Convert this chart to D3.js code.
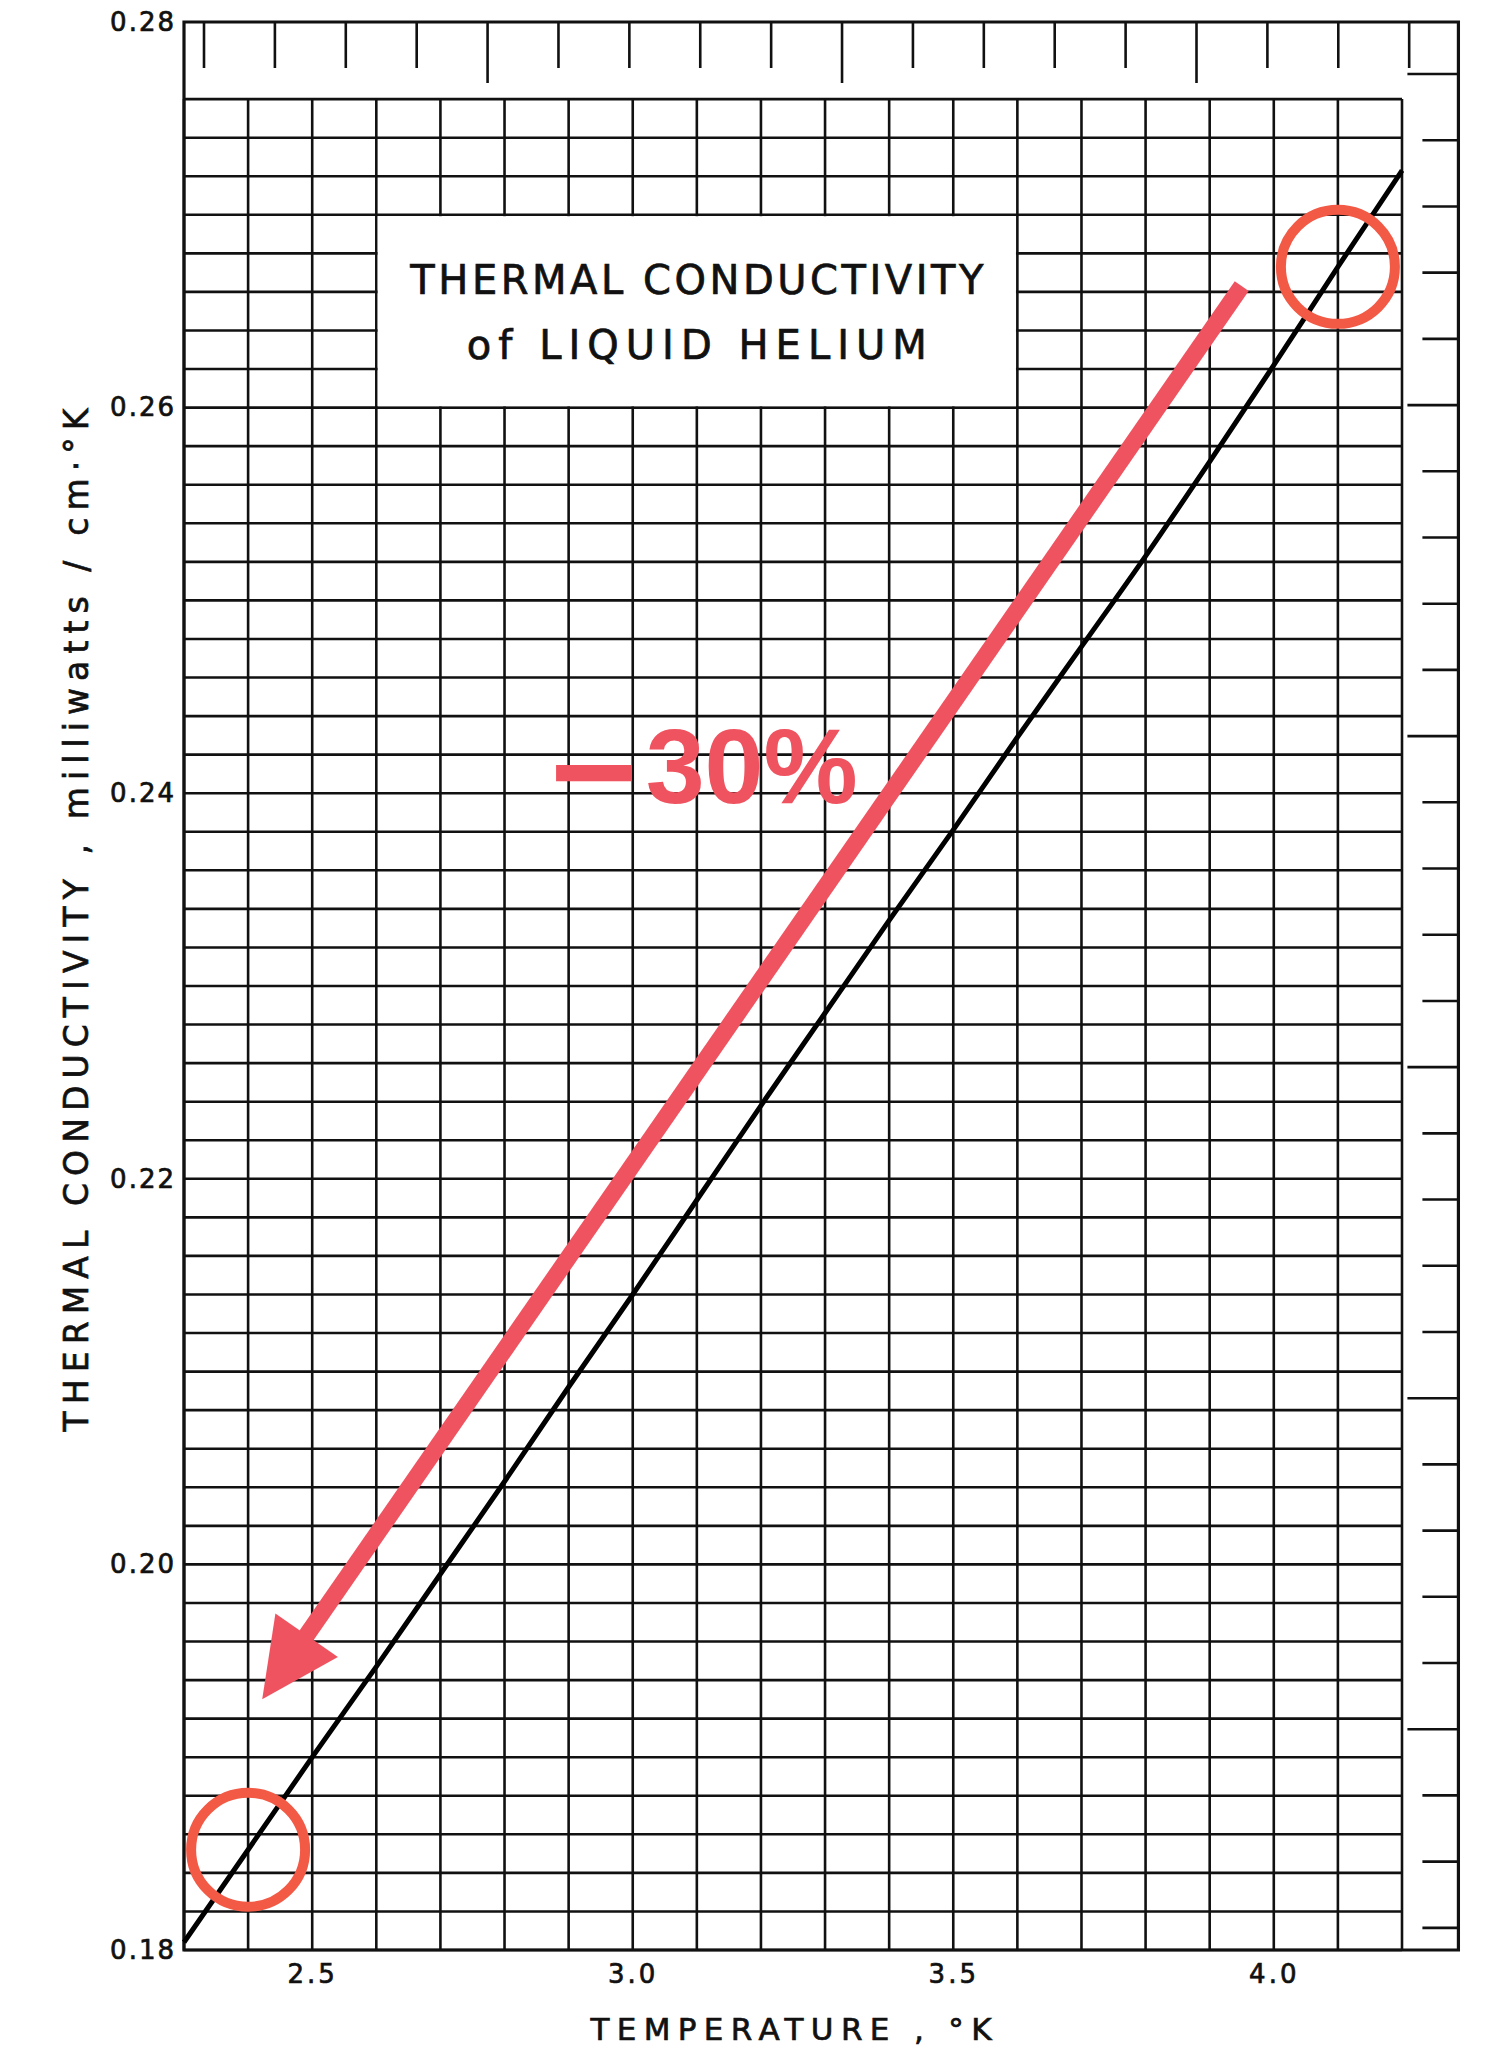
<!DOCTYPE html>
<html>
<head>
<meta charset="utf-8">
<title>Thermal Conductivity of Liquid Helium</title>
<script src="https://cdn.jsdelivr.net/npm/d3@7"></script>
<style>
  html, body { margin: 0; padding: 0; background: #fff; }
  svg { display: block; }
</style>
</head>
<body>
<script>
// Temperature (°K) and thermal conductivity (milliwatts / cm·°K)
const temperatureK = [2.3, 2.4, 2.5, 2.6, 2.7, 2.8, 2.9, 3.0, 3.1, 3.2,
                      3.3, 3.4, 3.5, 3.6, 3.7, 3.8, 3.9, 4.0, 4.1, 4.2];
const conductivity = [0.1804, 0.1852, 0.1900, 0.1947, 0.1995, 0.2043, 0.2092, 0.2140, 0.2189, 0.2238,
                      0.2286, 0.2334, 0.2381, 0.2429, 0.2476, 0.2523, 0.2572, 0.2622, 0.2673, 0.2723];

// Axis tick labels
const xTickValues = [2.5, 3.0, 3.5, 4.0];
const yTickValues = [0.18, 0.20, 0.22, 0.24, 0.26, 0.28];

// Graph-paper rulings: 0.1 °K by 0.002 units
const gridT = d3.range(23, 43).map(i => i / 10);
const gridK = d3.range(90, 139).map(i => i / 500);

// Annotation: the two compared points, the arrow between them and its label
const circledT = [2.4, 4.1];
const arrowFrom = [3.95, 0.2663];
const arrowTo = [2.422, 0.1930];
const changeAt = [2.871, 0.2395];
const changeText = ["−", "30%"];

const titleLines = ["THERMAL CONDUCTIVITY", "of LIQUID HELIUM"];
const xTitle = "TEMPERATURE , °K";
const yTitle = "THERMAL CONDUCTIVITY , milliwatts / cm·°K";

const W = 1492, H = 2046;
const ink = "#111";
const red = "#EF5360";
const ringRed = "#F25A46";
const letterFont = "'DejaVu Sans', Verdana, sans-serif";

const svg = d3.select("body").append("svg")
  .attr("width", W).attr("height", H)
  .attr("viewBox", `0 0 ${W} ${H}`);

svg.append("rect").attr("width", W).attr("height", H).attr("fill", "#fff");

const x = d3.scaleLinear().domain([2.3, 4.2]).range([184, 1402]);
const y = d3.scaleLinear().domain([0.18, 0.28]).range([1950, 22]);
const frameRight = x(4.288);

// Pen lettering is drawn a little heavier than the plain font
function lettering(sel) {
  sel.attr("font-family", letterFont).attr("fill", ink)
    .attr("stroke", ink).attr("stroke-width", 0.7);
}

// ---- grid ----
const grid = svg.append("g").attr("stroke", ink).attr("stroke-width", 2.6);
grid.selectAll("line.v").data(gridT).join("line").attr("class", "v")
  .attr("x1", d => x(d)).attr("x2", d => x(d))
  .attr("y1", y(0.18)).attr("y2", y(0.276));
grid.selectAll("line.h").data(gridK).join("line").attr("class", "h")
  .attr("x1", x(2.3)).attr("x2", x(4.2))
  .attr("y1", d => y(d)).attr("y2", d => y(d));

// ---- title panel cut out of the grid ----
svg.append("rect")
  .attr("x", x(2.6) + 1.4).attr("y", y(0.270) + 1.4)
  .attr("width", x(3.6) - x(2.6) - 2.8).attr("height", y(0.260) - y(0.270) - 2.8)
  .attr("fill", "#fff");

const titleX = (x(2.6) + x(3.6)) / 2;
const titleSpecs = [
  { text: titleLines[0], baseline: y(0.2659), length: 573 },
  { text: titleLines[1], baseline: y(0.2625), length: 460 }
];
svg.selectAll("text.title").data(titleSpecs).join("text").attr("class", "title")
  .attr("x", titleX).attr("y", d => d.baseline)
  .attr("text-anchor", "middle")
  .attr("font-size", 40)
  .attr("textLength", d => d.length).attr("lengthAdjust", "spacing")
  .call(lettering)
  .text(d => d.text);

// ---- outer frame ----
svg.append("path")
  .attr("d", `M${x(2.3)},${y(0.18)} V${y(0.28)} H${frameRight} V${y(0.18)} Z`)
  .attr("fill", "none").attr("stroke", ink).attr("stroke-width", 3.2);

// ---- rulers in the top and right margins ----
const rulerTop = d3.scaleLinear().domain([0, 17]).range([x(2.3312), x(4.2112)]);
svg.append("g").attr("stroke", ink).attr("stroke-width", 2.6)
  .selectAll("line").data(d3.range(18)).join("line")
  .attr("x1", d => rulerTop(d)).attr("x2", d => rulerTop(d))
  .attr("y1", y(0.28)).attr("y2", d => y(0.28) + (d % 5 === 4 ? 61 : 46));

const rulerRight = d3.scaleLinear().domain([0, 28]).range([y(0.2773), y(0.18115)]);
svg.append("g").attr("stroke", ink).attr("stroke-width", 2.6)
  .selectAll("line").data(d3.range(29)).join("line")
  .attr("y1", d => rulerRight(d)).attr("y2", d => rulerRight(d))
  .attr("x1", frameRight).attr("x2", d => frameRight - (d % 5 === 0 ? 51 : 36));

// ---- axes labels ----
const yAxis = svg.append("g")
  .attr("transform", `translate(${x(2.3)},0)`)
  .call(d3.axisLeft(y).tickValues(yTickValues).tickSize(0).tickPadding(8)
    .tickFormat(d3.format(".2f")));
yAxis.select(".domain").remove();
yAxis.selectAll("text")
  .attr("font-size", 26).attr("letter-spacing", 2)
  .call(lettering);

const xAxis = svg.append("g")
  .attr("transform", `translate(0,${y(0.18)})`)
  .call(d3.axisBottom(x).tickValues(xTickValues).tickSize(0).tickPadding(15)
    .tickFormat(d3.format(".1f")));
xAxis.select(".domain").remove();
xAxis.selectAll("text")
  .attr("font-size", 26).attr("letter-spacing", 3)
  .call(lettering);

svg.append("text")
  .attr("x", 791).attr("y", 2040)
  .attr("text-anchor", "middle")
  .attr("font-size", 31)
  .attr("textLength", 401).attr("lengthAdjust", "spacing")
  .call(lettering)
  .text(xTitle);

svg.append("text")
  .attr("transform", "translate(88,920) rotate(-90)")
  .attr("text-anchor", "middle")
  .attr("font-size", 33)
  .attr("textLength", 1023).attr("lengthAdjust", "spacing")
  .call(lettering)
  .text(yTitle);

// ---- conductivity curve ----
const points = temperatureK.map((t, i) => [t, conductivity[i]]);
svg.append("path")
  .datum(points)
  .attr("fill", "none").attr("stroke", "#000").attr("stroke-width", 5)
  .attr("stroke-linejoin", "round")
  .attr("d", d3.line().curve(d3.curveMonotoneX).x(d => x(d[0])).y(d => y(d[1])));

// ---- annotation ----
const circled = circledT.map(t => [t, conductivity[temperatureK.indexOf(t)]]);
svg.selectAll("circle.mark").data(circled).join("circle").attr("class", "mark")
  .attr("cx", d => x(d[0])).attr("cy", d => y(d[1]))
  .attr("r", 57)
  .attr("fill", "none").attr("stroke", ringRed).attr("stroke-width", 10);

const p0 = [x(arrowFrom[0]), y(arrowFrom[1])];
const p1 = [x(arrowTo[0]), y(arrowTo[1])];
const len = Math.hypot(p1[0] - p0[0], p1[1] - p0[1]);
const u = [(p1[0] - p0[0]) / len, (p1[1] - p0[1]) / len];
const n = [-u[1], u[0]];
const headLen = 78, headHalf = 38;
const base = [p1[0] - u[0] * headLen, p1[1] - u[1] * headLen];

svg.append("line")
  .attr("x1", p0[0]).attr("y1", p0[1])
  .attr("x2", base[0] + u[0] * 6).attr("y2", base[1] + u[1] * 6)
  .attr("stroke", red).attr("stroke-width", 17).attr("stroke-linecap", "butt");
svg.append("polygon")
  .attr("points", [
    p1,
    [base[0] + n[0] * headHalf, base[1] + n[1] * headHalf],
    [base[0] - n[0] * headHalf, base[1] - n[1] * headHalf]
  ].map(p => p.join(",")).join(" "))
  .attr("fill", red);

const change = svg.append("text")
  .attr("x", x(changeAt[0])).attr("y", y(changeAt[1]))
  .attr("fill", red)
  .attr("font-family", "'Liberation Sans', Arial, Helvetica, sans-serif")
  .attr("font-weight", 700).attr("font-size", 106);
change.append("tspan").attr("font-size", 150).attr("dy", 20).text(changeText[0]);
change.append("tspan").attr("dy", -20).attr("dx", 8).text(changeText[1]);
</script>
</body>
</html>
